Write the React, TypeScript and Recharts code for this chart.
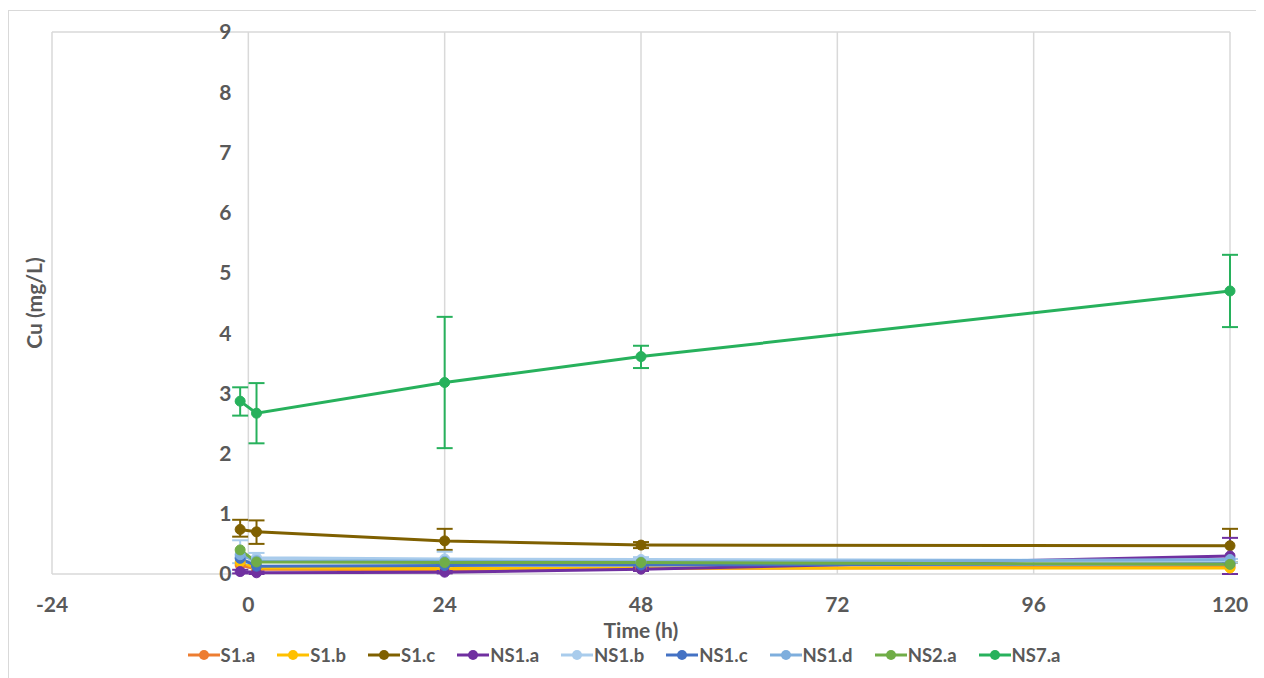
import React from "react";
import { CartesianGrid, ErrorBar, Legend, Line, LineChart, ReferenceDot, XAxis, YAxis } from "recharts";

// sampling times (h)
const times = [-1, 1, 24, 48, 120];

// Cu concentrations (mg/L) per sample
const s1a = [0.15, 0.08, 0.07, 0.09, 0.12];
const s1b = [0.2, 0.1, 0.09, 0.1, 0.1];
const s1c = [0.74, 0.7, 0.55, 0.48, 0.47];
const ns1a = [0.04, 0.02, 0.03, 0.08, 0.3];
const ns1b = [0.28, 0.27, 0.25, 0.24, 0.22];
const ns1c = [0.26, 0.13, 0.14, 0.15, 0.17];
const ns1d = [0.32, 0.22, 0.21, 0.2, 0.24];
const ns2a = [0.4, 0.2, 0.19, 0.19, 0.16];
const ns7a = [2.87, 2.67, 3.18, 3.61, 4.7];

// error deltas [below, above]
const s1cErr = [[0.12, 0.16], [0.2, 0.19], [0.15, 0.2], [0.05, 0.05], [0.28, 0.28]];
const ns1aErr = [[0.03, 0.03], [0.02, 0.02], [0.02, 0.02], [0.03, 0.03], [0.3, 0.3]];
const ns1bErr = [[0.1, 0.28], [0.05, 0.08], [0.12, 0.12], [0.04, 0.04], [0.03, 0.03]];
const ns7aErr = [[0.24, 0.23], [0.5, 0.5], [1.09, 1.09], [0.19, 0.18], [0.6, 0.6]];

const xTicks = [-24, 0, 24, 48, 72, 96, 120];
const yTicks = [0, 1, 2, 3, 4, 5, 6, 7, 8, 9];

const series = [
  { key: "s1a", name: "S1.a", color: "#ED7D31", values: s1a },
  { key: "s1b", name: "S1.b", color: "#FFC000", values: s1b },
  { key: "s1c", name: "S1.c", color: "#7F6000", values: s1c, err: s1cErr },
  { key: "ns1a", name: "NS1.a", color: "#7030A0", values: ns1a, err: ns1aErr },
  { key: "ns1b", name: "NS1.b", color: "#A9CCEC", values: ns1b, err: ns1bErr },
  { key: "ns1c", name: "NS1.c", color: "#4472C4", values: ns1c },
  { key: "ns1d", name: "NS1.d", color: "#7EAEDD", values: ns1d },
  { key: "ns2a", name: "NS2.a", color: "#70AD47", values: ns2a },
  { key: "ns7a", name: "NS7.a", color: "#27B15C", values: ns7a, err: ns7aErr },
];

const data = times.map((t, i) => {
  const row: Record<string, unknown> = { t };
  series.forEach((s) => {
    row[s.key] = s.values[i];
    if (s.err) row[s.key + "Err"] = s.err[i];
  });
  return row;
});

const font = "Lato, 'Open Sans', sans-serif";
const grey = "#595959";

function LegendRow() {
  return (
    <div style={{ display: "flex", justifyContent: "center", gap: 22, height: 24, alignItems: "center", fontFamily: font, fontWeight: 700, fontSize: 18.5, color: grey }}>
      {series.map((s) => (
        <div key={s.key} style={{ display: "flex", alignItems: "center", gap: 1 }}>
          <svg width={32} height={12}>
            <line x1={0} y1={6} x2={32} y2={6} stroke={s.color} strokeWidth={3} />
            <circle cx={16} cy={6} r={5} fill={s.color} />
          </svg>
          <span>{s.name}</span>
        </div>
      ))}
    </div>
  );
}

export default function App() {
  return (
    <div style={{ marginTop: 2, width: 1250, height: 668, border: "1px solid #d9d9d9", borderBottom: "none", boxSizing: "border-box", background: "#fff" }}>
      <LineChart width={1248} height={667} data={data} margin={{ top: 21, right: 27, bottom: 11, left: 9 }}>
        <CartesianGrid stroke="#d9d9d9" strokeWidth={1.5} />
        <XAxis
          type="number"
          dataKey="t"
          domain={[-24, 120]}
          ticks={xTicks}
          height={69}
          tickLine={false}
          axisLine={false}
          tickMargin={17}
          tick={{ fill: grey, fontSize: 21, fontWeight: 700, fontFamily: font }}
          label={{ value: "Time (h)", position: "insideBottom", offset: 5, fill: grey, fontSize: 21, fontWeight: 700, fontFamily: font }}
        />
        <YAxis
          type="number"
          domain={[0, 9]}
          ticks={yTicks}
          width={34}
          tick={false}
          tickLine={false}
          axisLine={false}
          label={{ value: "Cu (mg/L)", angle: -90, position: "center", fill: grey, fontSize: 21, fontWeight: 700, fontFamily: font }}
        />
        {yTicks.map((v) => (
          <ReferenceDot
            key={v}
            x={0}
            y={v}
            r={0}
            fill="none"
            stroke="none"
            label={{ value: String(v), position: "left", offset: 17, fill: grey, fontSize: 21, fontWeight: 700, fontFamily: font }}
          />
        ))}
        {series.map((s) => (
          <Line
            key={s.key}
            type="linear"
            dataKey={s.key}
            name={s.name}
            stroke={s.color}
            strokeWidth={3}
            dot={{ r: 5, fill: s.color, stroke: s.color, strokeWidth: 1 }}
            isAnimationActive={false}
          >
            {s.err && <ErrorBar dataKey={s.key + "Err"} direction="y" width={8} stroke={s.color} strokeWidth={2} />}
          </Line>
        ))}
        <Legend verticalAlign="bottom" content={() => <LegendRow />} />
      </LineChart>
    </div>
  );
}
